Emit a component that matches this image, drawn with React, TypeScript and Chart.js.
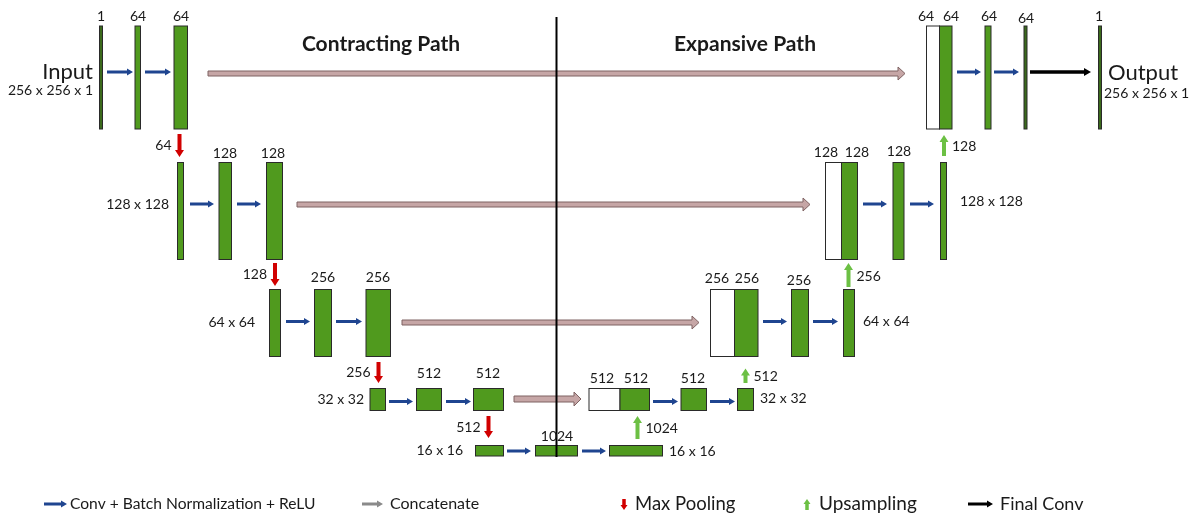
import React, { useEffect, useRef } from "react";
import { Chart, registerables } from "chart.js";

Chart.register(...registerables);

const W = 1199;
const H = 513;

// Diagram coordinates (diagram units match the 1199 x 513 page)
// Blocks: [x0, x1, y0, y1, kind]  kind: g = feature map, w = copied map, d = thin in/out map
const level1Blocks: [number, number, number, number, string][] = [
  [99.5, 102.5, 26, 129, "d"],
  [135, 140.5, 26, 129, "g"],
  [174, 187.5, 26, 129, "g"],
  [926.5, 939.5, 26, 129, "w"],
  [939.5, 952, 26, 129, "g"],
  [985, 991, 26, 129, "g"],
  [1024, 1027, 26, 129, "d"],
  [1098.5, 1101.5, 26, 129, "d"],
];
const level2Blocks: [number, number, number, number, string][] = [
  [177.5, 183.5, 162.5, 259.5, "g"],
  [219, 231.5, 162.5, 259.5, "g"],
  [266.5, 282.5, 162.5, 259.5, "g"],
  [825.5, 841.5, 162.5, 259.5, "w"],
  [841.5, 857.5, 162.5, 259.5, "g"],
  [893, 904, 162.5, 259.5, "g"],
  [940.5, 946.5, 162.5, 259.5, "g"],
];
const level3Blocks: [number, number, number, number, string][] = [
  [269.5, 280.5, 289.5, 356.5, "g"],
  [314.5, 331.5, 289.5, 356.5, "g"],
  [366, 390.5, 289.5, 356.5, "g"],
  [710.5, 734.5, 289.5, 356.5, "w"],
  [734.5, 758, 289.5, 356.5, "g"],
  [791.5, 808.5, 289.5, 356.5, "g"],
  [843.5, 854.5, 289.5, 356.5, "g"],
];
const level4Blocks: [number, number, number, number, string][] = [
  [370, 385.5, 388.5, 410.5, "g"],
  [416.5, 441.5, 388.5, 410.5, "g"],
  [473.5, 503.5, 388.5, 410.5, "g"],
  [589, 620, 388.5, 410.5, "w"],
  [620, 649.5, 388.5, 410.5, "g"],
  [681, 706.5, 388.5, 410.5, "g"],
  [737.5, 753.5, 388.5, 410.5, "g"],
];
const bottleneckBlocks: [number, number, number, number, string][] = [
  [475.5, 503.5, 445.5, 456, "g"],
  [535.5, 577.5, 445.5, 456, "g"],
  [609.5, 662.5, 445.5, 456, "g"],
];

// Conv arrows: [y, x0, x1]
const convArrows: [number, number, number][] = [
  [72, 107, 133], [72, 145, 171], [72, 957, 981], [72, 994, 1019],
  [204, 190, 214], [204, 237, 261], [204, 863, 887], [204, 910, 934],
  [321.5, 286, 310], [321.5, 336, 362], [321.5, 763, 787], [321.5, 813, 838],
  [401.5, 389, 413], [401.5, 446, 471], [401.5, 653, 678], [401.5, 710, 735],
  [451, 507, 531], [451, 582, 606],
];
// Concatenate (skip) arrows: [y, x0, x1, thickness]
const concatArrows: [number, number, number, number][] = [
  [73.5, 208, 905, 5],
  [204.5, 297, 810, 5],
  [322.5, 402, 699, 5],
  [399, 514, 581, 6],
];
// Max pooling arrows: [x, yTop, yBottom, label]
const poolArrows: [number, number, number, string][] = [
  [179.5, 134, 157, "64"],
  [275, 263, 286, "128"],
  [378.5, 362, 383, "256"],
  [488.5, 416, 438, "512"],
];
// Upsampling arrows: [x, yBottom, yTop, label]
const upArrows: [number, number, number, string][] = [
  [944, 156, 135, "128"],
  [848.5, 287, 263, "256"],
  [745.5, 383, 368.5, "512"],
  [637.5, 439, 416, "1024"],
];
// Final conv arrow: [y, x0, x1]
const finalArrow: [number, number, number] = [72, 1030, 1091];

// Channel labels: [x, y, text]
const channelLabels: [number, number, string][] = [
  [101, 16, "1"], [138, 16, "64"], [181, 16, "64"], [926, 16, "64"], [951, 16, "64"],
  [989, 16, "64"], [1026, 18, "64"], [1099, 16, "1"],
  [225, 153, "128"], [273, 153, "128"], [826, 152, "128"], [857, 152, "128"], [899, 151, "128"],
  [323, 277, "256"], [378, 277, "256"], [717, 278, "256"], [747, 278, "256"], [799, 280, "256"],
  [429, 373, "512"], [488, 373, "512"], [602, 378, "512"], [636, 378, "512"], [693, 378, "512"],
  [557, 436, "1024"],
];
// Resolution labels: [x, y, text, align]
const sizeLabels: [number, number, string, string][] = [
  [93, 90, "256 x 256 x 1", "right"],
  [169, 204, "128 x 128", "right"],
  [255, 322, "64 x 64", "right"],
  [364, 399, "32 x 32", "right"],
  [463, 450, "16 x 16", "right"],
  [1104, 93, "256 x 256 x 1", "left"],
  [960, 201, "128 x 128", "left"],
  [863, 321, "64 x 64", "left"],
  [760, 398, "32 x 32", "left"],
  [669, 451, "16 x 16", "left"],
];
const titles: [number, number, string][] = [
  [381, 44, "Contracting Path"],
  [745, 44, "Expansive Path"],
];
const ioLabels: [number, number, string, string][] = [
  [93, 72, "Input", "right"],
  [1108, 73, "Output", "left"],
];
const divider: [number, number, number] = [556.5, 17, 457];
const legendItems: [string, string][] = [
  ["conv", "Conv + Batch Normalization + ReLU"],
  ["concat", "Concatenate"],
  ["pool", "Max Pooling"],
  ["up", "Upsampling"],
  ["final", "Final Conv"],
];
const legendX: number[] = [44, 362, 624, 807, 968];
const legendTextX: number[] = [70, 390, 635, 819, 1000];
const legendFontPx: number[] = [15.6, 16, 18.5, 19, 18];
const legendY = 504;

const GREEN = "#509A1E";
const DARK = "#3B6A1C";
const BLUE = "#1F4590";
const CONCAT_FILL = "#C6A6A6";
const CONCAT_EDGE = "#7E6262";
const RED = "#D10000";
const UP = "#6CC044";
const TXT = "#1a1a1a";
const FONT = "Lato, 'Open Sans', sans-serif";

function drawArrow(
  ctx: CanvasRenderingContext2D,
  x0: number, y0: number, x1: number, y1: number,
  shaft: number, headLen: number, headHalf: number,
  fill: string, stroke?: string
) {
  const dx = x1 - x0, dy = y1 - y0;
  const L = Math.hypot(dx, dy);
  const ux = dx / L, uy = dy / L;
  const px = -uy, py = ux;
  const bx = x1 - ux * headLen, by = y1 - uy * headLen;
  const s = shaft / 2;
  ctx.beginPath();
  ctx.moveTo(x0 + px * s, y0 + py * s);
  ctx.lineTo(bx + px * s, by + py * s);
  ctx.lineTo(bx + px * headHalf, by + py * headHalf);
  ctx.lineTo(x1, y1);
  ctx.lineTo(bx - px * headHalf, by - py * headHalf);
  ctx.lineTo(bx - px * s, by - py * s);
  ctx.lineTo(x0 - px * s, y0 - py * s);
  ctx.closePath();
  ctx.fillStyle = fill;
  ctx.fill();
  if (stroke) {
    ctx.strokeStyle = stroke;
    ctx.lineWidth = 1;
    ctx.stroke();
  }
}

const unetPlugin = {
  id: "unetDiagram",
  afterDatasetsDraw(chart: any) {
    const ctx: CanvasRenderingContext2D = chart.ctx;
    const X = (v: number) => chart.scales.x.getPixelForValue(v);
    const Y = (v: number) => chart.scales.y.getPixelForValue(v);
    ctx.save();

    // concatenate arrows (behind)
    concatArrows.forEach(([y, x0, x1, t]) => {
      drawArrow(ctx, X(x0), Y(y), X(x1), Y(y), t, 7, t / 2 + 4, CONCAT_FILL, CONCAT_EDGE);
    });

    // blocks
    const allBlocks = [...level1Blocks, ...level2Blocks, ...level3Blocks, ...level4Blocks, ...bottleneckBlocks];
    allBlocks.forEach(([x0, x1, y0, y1, k]) => {
      const px0 = X(x0), px1 = X(x1), py0 = Y(y0), py1 = Y(y1);
      ctx.fillStyle = k === "w" ? "#ffffff" : k === "d" ? DARK : GREEN;
      ctx.fillRect(px0, py0, px1 - px0, py1 - py0);
      ctx.strokeStyle = "#2a2a2a";
      ctx.lineWidth = 1;
      ctx.strokeRect(px0, py0, px1 - px0, py1 - py0);
    });

    // conv arrows
    convArrows.forEach(([y, x0, x1]) => {
      drawArrow(ctx, X(x0), Y(y), X(x1), Y(y), 3, 6, 3.5, BLUE);
    });
    // pool arrows
    poolArrows.forEach(([x, yt, yb]) => {
      drawArrow(ctx, X(x), Y(yt), X(x), Y(yb), 4, 7, 4.5, RED);
    });
    // up arrows
    upArrows.forEach(([x, yb, yt]) => {
      drawArrow(ctx, X(x), Y(yb), X(x), Y(yt), 4, 7, 4.5, UP);
    });
    // final conv
    drawArrow(ctx, X(finalArrow[1]), Y(finalArrow[0]), X(finalArrow[2]), Y(finalArrow[0]), 3.5, 7, 4, "#000");

    // divider line
    ctx.strokeStyle = "#000";
    ctx.lineWidth = 2;
    ctx.beginPath();
    ctx.moveTo(X(divider[0]), Y(divider[1]));
    ctx.lineTo(X(divider[0]), Y(divider[2]));
    ctx.stroke();

    // texts
    ctx.fillStyle = TXT;
    ctx.textBaseline = "middle";
    ctx.font = `14px ${FONT}`;
    ctx.textAlign = "center";
    channelLabels.forEach(([x, y, t]) => ctx.fillText(t, X(x), Y(y)));
    poolArrows.forEach(([x, yt, yb, t]) => {
      ctx.textAlign = "right";
      ctx.fillText(t, X(x - 8), Y((yt + yb) / 2));
    });
    upArrows.forEach(([x, yb, yt, t]) => {
      ctx.textAlign = "left";
      ctx.fillText(t, X(x + 8), Y((yt + yb) / 2 + 1));
    });
    sizeLabels.forEach(([x, y, t, a]) => {
      ctx.textAlign = a as CanvasTextAlign;
      ctx.fillText(t, X(x), Y(y));
    });
    ctx.font = `22px ${FONT}`;
    ioLabels.forEach(([x, y, t, a]) => {
      ctx.textAlign = a as CanvasTextAlign;
      ctx.fillText(t, X(x), Y(y));
    });
    ctx.font = `bold 21px ${FONT}`;
    ctx.textAlign = "center";
    titles.forEach(([x, y, t]) => ctx.fillText(t, X(x), Y(y)));

    // legend
    legendItems.forEach(([kind, label], i) => {
      const lx = legendX[i];
      const ly = legendY;
      if (kind === "conv") drawArrow(ctx, X(lx), Y(ly), X(lx + 23), Y(ly), 3, 6, 3.5, BLUE);
      if (kind === "concat") drawArrow(ctx, X(lx), Y(ly), X(lx + 21), Y(ly), 3, 6, 3.5, "#8a8a8a");
      if (kind === "final") drawArrow(ctx, X(lx), Y(ly), X(lx + 25), Y(ly), 3, 6, 3.5, "#000");
      if (kind === "pool") drawArrow(ctx, X(lx), Y(ly - 5), X(lx), Y(ly + 6), 3.5, 5, 3.5, RED);
      if (kind === "up") drawArrow(ctx, X(lx), Y(ly + 6), X(lx), Y(ly - 5), 3.5, 5, 3.5, UP);
      ctx.fillStyle = TXT;
      ctx.font = `${legendFontPx[i]}px ${FONT}`;
      ctx.textAlign = "left";
      ctx.fillText(label, X(legendTextX[i]), Y(ly));
    });

    ctx.restore();
  },
};

export default function App() {
  const ref = useRef<HTMLCanvasElement | null>(null);
  useEffect(() => {
    document.body.style.margin = "0";
    document.body.style.background = "#ffffff";
    if (!ref.current) return;
    const chart = new Chart(ref.current, {
      type: "scatter",
      data: { datasets: [{ data: [] }] },
      options: {
        responsive: false,
        animation: false,
        layout: { padding: 0 },
        plugins: { legend: { display: false }, tooltip: { enabled: false } },
        scales: {
          x: { type: "linear", min: 0, max: W, display: false },
          y: { type: "linear", min: 0, max: H, reverse: true, display: false },
        },
      },
      plugins: [unetPlugin],
    } as any);
    return () => chart.destroy();
  }, []);
  return (
    <div style={{ position: "absolute", left: 0, top: 0, width: W, height: H, background: "#fff" }}>
      <canvas ref={ref} width={W} height={H} style={{ width: W, height: H, display: "block" }} />
    </div>
  );
}
